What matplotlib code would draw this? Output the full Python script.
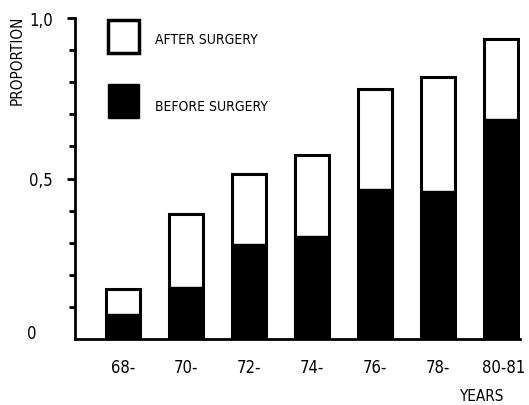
import matplotlib.pyplot as plt
import matplotlib.transforms as mtransforms
import numpy as np

years = ["68-", "70-", "72-", "74-", "76-", "78-", "80-81"]
after_total = [0.156, 0.389, 0.514, 0.573, 0.779, 0.816, 0.935]
before = [0.078, 0.162, 0.296, 0.321, 0.467, 0.461, 0.685]

plt.rcParams['font.family'] = ['DejaVu Sans']
plt.rcParams['font.stretch'] = 'condensed'

fig = plt.figure(figsize=(5.29, 4.06), dpi=100)
ax = fig.add_axes([75 / 529, 66 / 406, 445 / 529, 321 / 406])

x = np.arange(len(years))
w = 0.54
ax.bar(x, after_total, width=w, color="white", edgecolor="black", linewidth=2.2, zorder=2)
ax.bar(x, before, width=w, color="black", edgecolor="black", linewidth=1, zorder=3)

ax.set_xlim(-0.77, 6.3)
ax.set_ylim(0, 1.0)
ax.spines["top"].set_visible(False)
ax.spines["right"].set_visible(False)
ax.spines["left"].set_linewidth(2)
ax.spines["bottom"].set_linewidth(2)

ax.set_xticks(x)
ax.set_xticklabels(years, fontsize=12)
ax.tick_params(axis="x", length=0, pad=14)
# last label sits a bit to the right in the original
last = ax.get_xticklabels()[-1]
last.set_transform(last.get_transform() + mtransforms.ScaledTranslation(3 / 100, 0, fig.dpi_scale_trans))

ax.set_yticks([0.5, 1.0])
ax.set_yticklabels(["0,5", "1,0"], fontsize=12)
ax.set_yticks(np.arange(0.1, 1.0, 0.1), minor=True)
ax.tick_params(axis="y", which="major", length=6, width=2, pad=27)
for lab in ax.get_yticklabels():
    lab.set_horizontalalignment("left")
ax.tick_params(axis="y", which="minor", length=4, width=2)
fig.text(27 / 529, 1 - 334 / 406, "0", fontsize=12, va="center", ha="left")

fig.text(17 / 529, 1 - 60 / 406, "PROPORTION", rotation=90, fontsize=11,
         va="center", ha="center")
fig.text(481 / 529, 1 - 397 / 406, "YEARS", fontsize=11, va="center", ha="center")

# legend boxes
ax.bar([0], [0.105], bottom=[0.89], width=0.49, color="white", edgecolor="black",
       linewidth=2.5, zorder=2)
ax.bar([0], [0.105], bottom=[0.69], width=0.49, color="black", edgecolor="black",
       linewidth=1, zorder=2)
ax.text(80 / 445, (340 - 40) / 321, "AFTER SURGERY",
        transform=ax.transAxes, fontsize=10, va="center")
ax.text(80 / 445, (340 - 107) / 321, "BEFORE SURGERY",
        transform=ax.transAxes, fontsize=10, va="center")

fig.savefig("out.png", dpi=100)
